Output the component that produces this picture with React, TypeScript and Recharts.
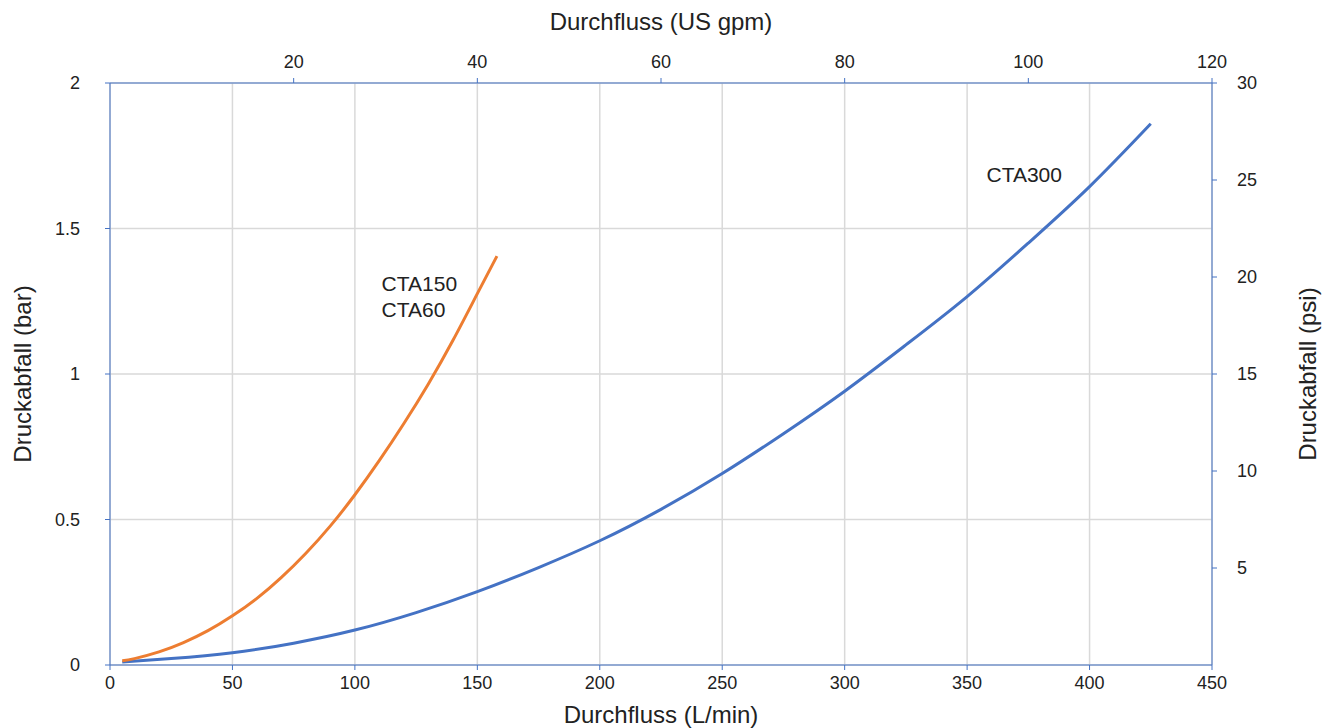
import React from 'react';
import {
  ComposedChart,
  Line,
  XAxis,
  YAxis,
  CartesianGrid,
  ReferenceDot,
} from 'recharts';

// CTA150 / CTA60 curve
const flowSmall = [5, 10, 20, 30, 40, 50, 60, 70, 80, 90, 100, 110, 120, 130, 140, 150, 158];
const dropSmall = [0.015, 0.022, 0.045, 0.077, 0.118, 0.169, 0.229, 0.301, 0.384, 0.478, 0.585, 0.703, 0.83, 0.966, 1.115, 1.276, 1.405];

// CTA300 curve
const flowLarge = [5, 25, 50, 75, 100, 125, 150, 175, 200, 225, 250, 275, 300, 325, 350, 375, 400, 425];
const dropLarge = [0.01, 0.022, 0.042, 0.075, 0.12, 0.18, 0.252, 0.335, 0.427, 0.535, 0.658, 0.795, 0.941, 1.1, 1.266, 1.45, 1.644, 1.86];

// secondary scales (US gpm / psi) extents
const gpmRange = [0, 120];
const psiRange = [0, 30];

const lpmTicks = [0, 50, 100, 150, 200, 250, 300, 350, 400, 450];
const gpmTicks = [20, 40, 60, 80, 100, 120];
const barTicks = [0, 0.5, 1, 1.5, 2];
const psiTicks = [5, 10, 15, 20, 25, 30];

const noteTexts = ['CTA150', 'CTA60', 'CTA300'];
const noteFlow = [110.5, 110.5, 357.5];
const noteDrop = [1.31, 1.22, 1.686];

const smallData = flowSmall.map((f, i) => ({ flow: f, bar: dropSmall[i] }));
const largeData = flowLarge.map((f, i) => ({ flow: f, bar: dropLarge[i] }));
const secondaryData = gpmRange.map((g, i) => ({ gpm: g, psi: psiRange[i] }));

const AXIS = '#4472C4';
const FONT = '"Liberation Sans", Arial, Helvetica, sans-serif';
const tickStyle = { fill: '#222', fontSize: 18, fontFamily: FONT };
const titleStyle = { fill: '#222', fontSize: 24, fontFamily: FONT };

export default function App() {
  return (
    <div style={{ width: 1318, height: 720, background: '#fff' }}>
      <ComposedChart
        width={1318}
        height={720}
        margin={{ top: 0, right: 0, bottom: 0, left: 0 }}
        style={{ fontFamily: FONT }}
      >
        <CartesianGrid xAxisId="lpm" yAxisId="bar" stroke="#d9d9d9" strokeWidth={1.5} />
        <XAxis
          xAxisId="lpm"
          dataKey="flow"
          type="number"
          domain={[0, 450]}
          ticks={lpmTicks}
          orientation="bottom"
          height={63}
          stroke={AXIS}
          tick={tickStyle}
          tickSize={5}
          tickMargin={6}
          interval={0}
          allowDataOverflow
          label={{ value: 'Durchfluss (L/min)', position: 'insideBottom', offset: 5, style: titleStyle }}
        />
        <XAxis
          xAxisId="gpm"
          dataKey="gpm"
          type="number"
          domain={[0, 120]}
          ticks={gpmTicks}
          orientation="top"
          height={75}
          stroke={AXIS}
          tick={tickStyle}
          tickSize={5}
          tickMargin={10}
          interval={0}
          allowDataOverflow
          label={{ value: 'Durchfluss (US gpm)', position: 'insideTop', offset: 5, style: titleStyle }}
        />
        <YAxis
          yAxisId="bar"
          type="number"
          domain={[0, 2]}
          ticks={barTicks}
          orientation="left"
          width={102}
          stroke={AXIS}
          tick={tickStyle}
          tickSize={5}
          tickMargin={25}
          interval={0}
          allowDataOverflow
          label={{
            value: 'Druckabfall (bar)',
            position: 'insideLeft',
            angle: -90,
            offset: 14,
            style: { ...titleStyle, textAnchor: 'middle' },
          }}
        />
        <YAxis
          yAxisId="psi"
          type="number"
          domain={[0, 30]}
          ticks={psiTicks}
          orientation="right"
          width={114}
          stroke={AXIS}
          tick={tickStyle}
          tickSize={5}
          tickMargin={20}
          interval={0}
          allowDataOverflow
          label={{
            value: 'Druckabfall (psi)',
            position: 'insideRight',
            angle: -90,
            offset: 19,
            style: { ...titleStyle, textAnchor: 'middle' },
          }}
        />
        <Line
          xAxisId="gpm"
          yAxisId="psi"
          data={secondaryData}
          dataKey="psi"
          stroke="none"
          strokeWidth={0}
          dot={false}
          activeDot={false}
          legendType="none"
          isAnimationActive={false}
        />
        <Line
          xAxisId="lpm"
          yAxisId="bar"
          data={largeData}
          dataKey="bar"
          type="natural"
          stroke="#4472C4"
          strokeWidth={3}
          dot={false}
          activeDot={false}
          isAnimationActive={false}
        />
        <Line
          xAxisId="lpm"
          yAxisId="bar"
          data={smallData}
          dataKey="bar"
          type="natural"
          stroke="#ED7D31"
          strokeWidth={3}
          dot={false}
          activeDot={false}
          isAnimationActive={false}
        />
        {noteTexts.map((t, i) => (
          <ReferenceDot
            key={t}
            xAxisId="lpm"
            yAxisId="bar"
            x={noteFlow[i]}
            y={noteDrop[i]}
            r={1}
            fill="none"
            stroke="none"
            label={{ value: t, position: 'right', offset: 0, style: { fill: '#222', fontSize: 21, fontFamily: FONT } }}
          />
        ))}
      </ComposedChart>
    </div>
  );
}
